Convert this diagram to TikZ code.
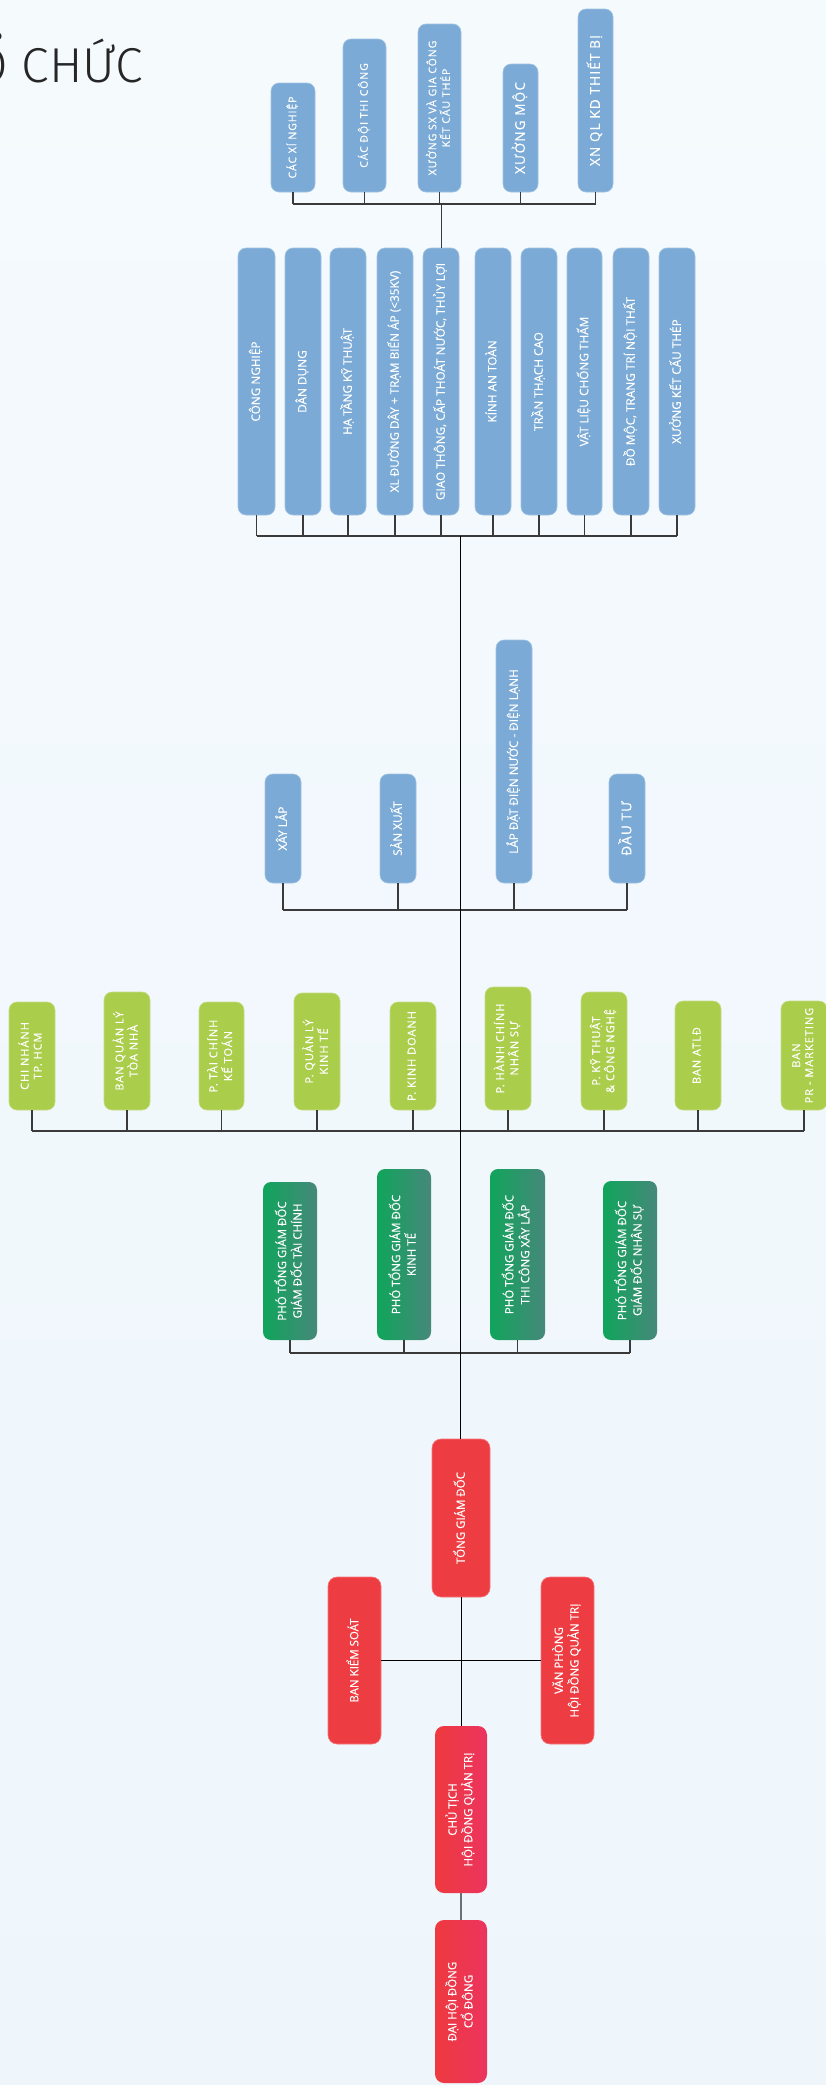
\documentclass[tikz,border=0pt]{standalone}
\usepackage{fontspec}
\usepackage{graphicx}
\setmainfont{Open Sans}
\newfontfamily\boxfont[FakeBold=0.35]{Open Sans}
\newfontfamily\boxfontsp[LetterSpace=9,FakeBold=0.35]{Open Sans}
\newfontfamily\titlefont[FakeStretch=1.02]{Fira Sans Light}
\definecolor{cblue}{HTML}{7AAAD5}
\definecolor{clime}{HTML}{ABCD4C}
\definecolor{cred}{HTML}{EE3D42}
\definecolor{cgreenL}{HTML}{10A55B}
\definecolor{cgreenR}{HTML}{46887A}
\definecolor{cpinkL}{HTML}{EE3A3F}
\definecolor{cpinkR}{HTML}{EB345E}
\definecolor{bgtop}{HTML}{F5FAFD}
\definecolor{bgbot}{HTML}{EEF6FC}
\definecolor{cline}{HTML}{3A3A3A}
\definecolor{cgrayline}{HTML}{6B7075}
\newcommand\bx[7]{\node[#2, minimum width={(#5)-(#3)}, minimum height={(#6)-(#4)}] (#1) at ({((#3)+(#5))/2},{((#4)+(#6))/2}) {\rotatebox{90}{\begin{tabular}{@{}c@{}}#7\end{tabular}}};}
\begin{document}
\begin{tikzpicture}[x=1pt,y=-1pt,
  box/.style={rounded corners=8pt, inner sep=0pt, outer sep=0pt, text=white},
  bluebox/.style={box, fill=cblue, draw=cblue!70!white, line width=0.6pt, font=\boxfont\fontsize{11.8}{13.5}\selectfont},
  bluesp/.style={bluebox, font=\boxfontsp\fontsize{10.5}{11}\selectfont},
  bluebig/.style={bluebox, font=\boxfontsp\fontsize{13.5}{15}\selectfont},
  limebox/.style={box, fill=clime, draw=clime!70!white, line width=0.6pt, font=\boxfontsp\fontsize{11}{13}\selectfont},
  greenbox/.style={box, left color=cgreenL, right color=cgreenR, font=\boxfont\fontsize{11.5}{14}\selectfont},
  redbox/.style={box, rounded corners=9pt, fill=cred, draw=cred!70!white, line width=0.6pt, font=\boxfont\fontsize{11.5}{14.5}\selectfont},
  pinkbox/.style={box, rounded corners=9pt, left color=cpinkL, right color=cpinkR, font=\boxfont\fontsize{11.5}{14.5}\selectfont},
  bus/.style={draw=cline, line width=1.1pt},
  trunk/.style={draw=black, line width=1pt},
  grayline/.style={draw=cgrayline, line width=2pt}]
\useasboundingbox (0,0) rectangle (826,2085);
\clip (0,0) rectangle (826,2085);
\shade[top color=bgtop, bottom color=bgbot] (0,0) rectangle (826,2085);
% title
\node[anchor=base east, inner sep=0pt, text=black!85] (title) at (143,82) {\titlefont\fontsize{49}{49}\selectfont TỔ CHỨC};
% top group
\bx{t1}{bluesp}{271}{83}{315}{192}{CÁC XÍ NGHIỆP}
\bx{t2}{bluesp}{343}{39}{386}{192}{CÁC ĐỘI THI CÔNG}
\bx{t3}{bluesp}{418}{24}{461}{192}{XƯỞNG SX VÀ GIA CÔNG\\KẾT CẤU THÉP}
\bx{t4}{bluebig}{503}{64}{538}{192}{XƯỞNG MỘC}
\bx{t5}{bluebig}{578}{9}{613}{192}{XN QL KD THIẾT BỊ}
% level 2
\bx{a1}{bluebox}{238}{248}{275}{515}{CÔNG NGHIỆP}
\bx{a2}{bluebox}{285}{248}{321}{515}{DÂN DỤNG}
\bx{a3}{bluebox}{330}{248}{366}{515}{HẠ TẦNG KỸ THUẬT}
\bx{a4}{bluebox}{377}{248}{413}{515}{XL ĐƯỜNG DÂY + TRẠM BIẾN ÁP (<35KV)}
\bx{a5}{bluebox}{423}{248}{459}{515}{GIAO THÔNG, CẤP THOÁT NƯỚC, THỦY LỢI}
\bx{a6}{bluebox}{475}{248}{511}{515}{KÍNH AN TOÀN}
\bx{a7}{bluebox}{521}{248}{557}{515}{TRẦN THẠCH CAO}
\bx{a8}{bluebox}{567}{248}{602}{515}{VẬT LIỆU CHỐNG THẤM}
\bx{a9}{bluebox}{613}{248}{649}{515}{ĐỒ MỘC, TRANG TRÍ NỘI THẤT}
\bx{a10}{bluebox}{659}{248}{695}{515}{XƯỞNG KẾT CẤU THÉP}
% level 3
\bx{s1}{bluebox}{265}{774}{301}{883}{XÂY LẮP}
\bx{s2}{bluebox}{380}{774}{416}{883}{SẢN XUẤT}
\bx{s3}{bluebox}{496}{640}{532}{883}{LẮP ĐẶT ĐIỆN NƯỚC - ĐIỆN LẠNH}
\bx{s4}{bluebig}{609}{774}{645}{883}{ĐẦU TƯ}
% level 4
\bx{g1}{limebox}{9}{1002}{55}{1110}{CHI NHÁNH\\TP. HCM}
\bx{g2}{limebox}{104}{992}{150}{1110}{BAN QUẢN LÝ\\TÒA NHÀ}
\bx{g3}{limebox}{199}{1002}{244}{1110}{P. TÀI CHÍNH\\KẾ TOÁN}
\bx{g4}{limebox}{294}{993}{340}{1110}{P. QUẢN LÝ\\KINH TẾ}
\bx{g5}{limebox}{390}{1002}{436}{1110}{P. KINH DOANH}
\bx{g6}{limebox}{485}{987}{531}{1110}{P. HÀNH CHÍNH\\NHÂN SỰ}
\bx{g7}{limebox}{581}{992}{627}{1110}{P. KỸ THUẬT\\\& CÔNG NGHỆ}
\bx{g8}{limebox}{675}{1001}{721}{1110}{BAN ATLĐ}
\bx{g9}{limebox}{781}{1001}{827}{1110}{BAN\\PR - MARKETING}
% level 5
\bx{p1}{greenbox}{263}{1182}{317}{1340}{PHÓ TỔNG GIÁM ĐỐC\\GIÁM ĐỐC TÀI CHÍNH}
\bx{p2}{greenbox}{377}{1169}{431}{1340}{PHÓ TỔNG GIÁM ĐỐC\\KINH TẾ}
\bx{p3}{greenbox}{490}{1169}{545}{1340}{PHÓ TỔNG GIÁM ĐỐC\\THI CÔNG XÂY LẮP}
\bx{p4}{greenbox}{603}{1181}{657}{1340}{PHÓ TỔNG GIÁM ĐỐC\\GIÁM ĐỐC NHÂN SỰ}
% red
\bx{tgd}{redbox}{432}{1439}{490}{1597}{TỔNG GIÁM ĐỐC}
\bx{bks}{redbox}{328}{1577}{381}{1744}{BAN KIỂM SOÁT}
\bx{vp}{redbox}{541}{1577}{594}{1744}{VĂN PHÒNG\\HỘI ĐỒNG QUẢN TRỊ}
\bx{ct}{pinkbox}{435}{1726}{487}{1893}{CHỦ TỊCH\\HỘI ĐỒNG QUẢN TRỊ}
\bx{dh}{pinkbox}{435}{1920}{487}{2083}{ĐẠI HỘI ĐỒNG\\CỔ ĐÔNG}
% buses
\coordinate (busT) at (441.5,204);
\coordinate (busA) at (460,536);
\coordinate (busS) at (460,910);
\coordinate (busG) at (460,1131);
\coordinate (busP) at (460,1353);
\foreach \n in {t1,t2,t3,t4,t5} \draw[bus] (\n.south) -- (\n.south |- busT);
\draw[bus] (t1.south |- busT) -- (t5.south |- busT);
\draw[bus] (busT) -- (busT |- a5.north);
\foreach \n in {a1,a2,a3,a4,a5,a6,a7,a8,a9,a10} \draw[bus] (\n.south) -- (\n.south |- busA);
\draw[bus] (a1.south |- busA) -- (a10.south |- busA);
\foreach \n in {s1,s2,s3,s4} \draw[bus] (\n.south) -- (\n.south |- busS);
\draw[bus] (s1.south |- busS) -- (s4.south |- busS);
\foreach \n in {g1,g2,g3,g4,g5,g6,g7,g8,g9} \draw[bus] (\n.south) -- (\n.south |- busG);
\draw[bus] (g1.south |- busG) -- (g9.south |- busG);
\foreach \n in {p1,p2,p3,p4} \draw[bus] (\n.south) -- (\n.south |- busP);
\draw[bus] (p1.south |- busP) -- (p4.south |- busP);
\draw[trunk] (busA) -- (busA |- tgd.north);
\draw[trunk] (tgd.south) -- (ct.north);
\draw[trunk] (bks.east) -- (vp.west);
\draw[grayline] (ct.south) -- (dh.north);
\end{tikzpicture}
\end{document}
